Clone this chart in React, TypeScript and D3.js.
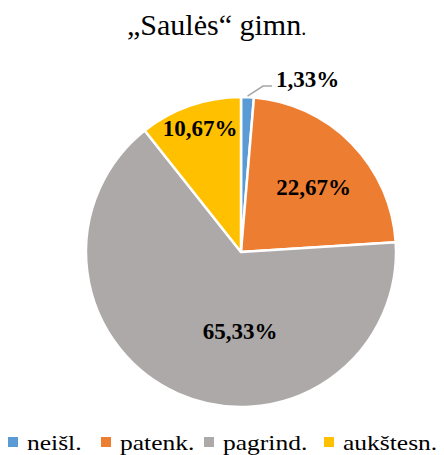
import React, { useRef, useEffect } from 'react';
import * as d3 from 'd3';

const categories = ['neišl.', 'patenk.', 'pagrind.', 'aukštesn.'];
const values = [1.33, 22.67, 65.33, 10.67];
const valueLabels = ['1,33%', '22,67%', '65,33%', '10,67%'];
const colors = ['#5B9BD5', '#ED7D31', '#ADA9A8', '#FFC000'];

const App = () => {
    const chartRef = useRef<SVGSVGElement>(null);

    useEffect(() => {
        const width = 444;
        const height = 455;
        const cx = 241;
        const cy = 252;
        const radius = 155;
        const font = '"Liberation Serif", "Times New Roman", serif';

        const svg = d3.select(chartRef.current)
            .attr('width', width)
            .attr('height', height)
            .attr('font-family', font);
        svg.selectAll('*').remove();

        const data = categories.map((c, i) => ({ name: c, value: values[i], label: valueLabels[i], color: colors[i] }));

        const title = svg.append('text')
            .attr('x', 127)
            .attr('y', 35)
            .attr('font-size', 30)
            .attr('fill', '#000');
        title.append('tspan').text('„Saulės“ gimn');
        title.append('tspan').attr('font-size', 20).text('.');

        const pie = d3.pie<any>().value(d => d.value).sort(null);
        const arc = d3.arc<any>().innerRadius(0).outerRadius(radius);
        const arcs = pie(data);

        const g = svg.append('g').attr('transform', `translate(${cx},${cy})`);

        g.selectAll('path')
            .data(arcs)
            .join('path')
            .attr('d', arc)
            .attr('fill', d => d.data.color)
            .attr('stroke', '#fff')
            .attr('stroke-width', 2.5)
            .attr('stroke-linejoin', 'round');

        // label placement: [angle in degrees from 12 o'clock, fraction of radius]
        const labelPolar: [number, number][] = [[0, 0], [48, 0.63], [180.7, 0.51], [-18.3, 0.84]];
        arcs.forEach((a, i) => {
            if (i === 0) return;
            const ang = (labelPolar[i][0] * Math.PI) / 180;
            const r = radius * labelPolar[i][1];
            g.append('text')
                .attr('x', Math.sin(ang) * r)
                .attr('y', -Math.cos(ang) * r)
                .attr('dy', '0.35em')
                .attr('text-anchor', 'middle')
                .attr('font-size', 23)
                .attr('font-weight', 'bold')
                .text(a.data.label);
        });

        // small slice label with leader line
        const a0 = arcs[0];
        const mid0 = (a0.startAngle + a0.endAngle) / 2;
        const p0: [number, number] = [Math.sin(mid0) * (radius + 1), -Math.cos(mid0) * (radius + 1)];
        const p1: [number, number] = [22, -166];
        const p2: [number, number] = [31, -166];
        g.append('path')
            .attr('d', d3.line()([p0, p1, p2]))
            .attr('fill', 'none')
            .attr('stroke', '#A6A6A6')
            .attr('stroke-width', 1.5);
        g.append('text')
            .attr('x', 35)
            .attr('y', -165)
            .attr('font-size', 23)
            .attr('font-weight', 'bold')
            .text(a0.data.label);

        // legend
        const legendX = [8, 101, 204, 324];
        const legend = svg.append('g').attr('transform', 'translate(0,442)');
        data.forEach((d, i) => {
            legend.append('rect')
                .attr('x', legendX[i])
                .attr('y', -5)
                .attr('width', 10)
                .attr('height', 10)
                .attr('fill', d.color);
            legend.append('text')
                .attr('transform', `translate(${legendX[i] + 19},8) scale(1.16,1)`)
                .attr('font-size', 22)
                .attr('fill', '#000')
                .text(d.name);
        });
    }, []);

    return <svg ref={chartRef} style={{ position: 'absolute', left: 0, top: 0 }}></svg>;
};

export default App;
